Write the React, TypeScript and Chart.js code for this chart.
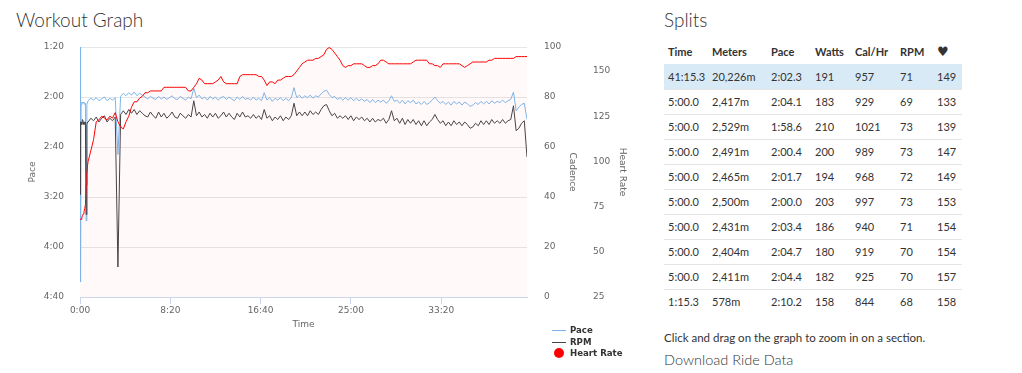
import React, { useEffect, useRef } from "react";
import { Chart, registerables } from "chart.js";

Chart.register(...registerables);

// ---- Time grid (seconds) ----
const START_TIMES_S = [0, 3, 6, 10, 14, 18, 22, 26, 30, 34, 38, 42];
const SAMPLE_START_S = 45;
const SAMPLE_STEP_S = 15;
const TIME_MAX_S = 2475;

// ---- Pace (seconds per 500m) ----
const PACE_START = [80, 268, 126, 124, 125, 124, 125, 126, 125, 219, 126, 124];
const PACE_MAIN = [
  123, 121, 122.5, 120.5, 123, 121.5, 120, 123, 121, 122.5,
  120.5, 166, 119.5, 117, 119, 116.5, 118.5, 116, 119, 117,
  118.5, 120, 121.5, 119.5, 121, 122, 119.5, 121.5, 120, 122,
  120.5, 119, 121.5, 122, 119.5, 121, 122.5, 120, 121.5, 113,
  120.5, 118.5, 121.5, 120, 122.5, 119.5, 121.5, 120, 122.5, 120.5,
  119.5, 122, 120, 121.5, 123, 120, 122, 119.5, 122, 121,
  122.5, 120, 122.5, 121, 123, 116.5, 122.5, 120.5, 123.5, 121,
  122.5, 120.5, 123, 121, 123, 120.5, 112.5, 120.5, 118.5, 121,
  119, 120.5, 118.5, 121, 119, 120, 117.5, 115.5, 114.5, 118,
  120.5, 119.5, 122, 120.5, 122.5, 120.5, 122.5, 120.5, 123, 121,
  123, 121.5, 123.5, 122, 124.5, 122, 124.5, 122.5, 124, 122.5,
  125, 123, 119, 123.5, 122.5, 125, 122.5, 125.5, 123, 124.5,
  122.5, 125.5, 124, 126, 123.5, 126, 124.5, 122.5, 120, 123,
  125, 123.5, 126, 124, 126.5, 123.5, 125.5, 124, 126.5, 124,
  125.5, 127.5, 126.5, 124.5, 126, 123.5, 125.5, 123.5, 125.5, 123,
  125, 123.5, 124.5, 122.5, 124.5, 123, 122, 116, 131, 128,
  126, 125, 138,
];

// ---- Cadence (RPM) ----
const RPM_START = [41, 70, 70, 69, 71, 70, 69, 70, 70, 33, 69, 70];
const RPM_MAIN = [
  70, 71.5, 70.5, 72, 70, 71.5, 72.5, 70, 71.5, 70.5,
  72, 12, 73, 74.5, 73, 75, 73.5, 75, 73, 74.5,
  73.5, 72.5, 72, 74, 72.5, 71.5, 74, 72, 73.5, 71.5,
  72.5, 74, 72, 71.5, 73.5, 72.5, 71.5, 73, 72, 78.5,
  72.5, 74, 72, 73, 71.5, 73.5, 72, 73.5, 71.5, 72.5,
  74, 72, 73.5, 72, 71, 73.5, 72, 74, 72, 72.5,
  71.5, 73, 71.5, 72.5, 71, 75, 71.5, 72.5, 70.5, 72,
  71, 72.5, 70.5, 72, 71, 72.5, 77.5, 72.5, 74, 72.5,
  74, 72.5, 74.5, 73, 74, 73, 75, 76.5, 77, 74.5,
  72.5, 73.5, 71.5, 72.5, 71.5, 72.5, 71, 72.5, 70.5, 72,
  71, 72, 70.5, 71.5, 70, 71.5, 70, 71, 70.5, 71.5,
  69.5, 71, 74.5, 70.5, 71.5, 69.5, 71.5, 69, 71, 69.5,
  71, 69, 70.5, 68.5, 70.5, 68.5, 70, 71, 73, 71,
  69.5, 70.5, 68.5, 70, 68.5, 70.5, 69, 70, 68.5, 70,
  69, 67.5, 68, 69.5, 68.5, 70.5, 69, 70.5, 69, 71,
  69.5, 70.5, 69.5, 71, 69.5, 70.5, 71, 76.5, 66.5, 67.5,
  69.5, 70.5, 56,
];

// ---- Heart rate (bpm) ----
const HR_START = [68, 68, 68, 69, 70, 71, 72, 74, 76, 87, 93, 98];
const HR_MAIN = [
  100, 106, 112, 122, 123, 125, 124, 123, 125, 124,
  127, 122, 119, 118, 122, 125, 130, 133, 133, 135,
  136, 138, 138, 139, 139, 139, 139, 139, 141, 141,
  141, 141, 141, 141, 141, 141, 141, 139, 139, 141,
  143, 146, 145, 143, 143, 143, 143, 144, 145, 147,
  144, 143, 143, 143, 143, 143, 147, 148, 148, 148,
  148, 148, 148, 147, 147, 145, 142, 144, 144, 143,
  145, 145, 146, 147, 147, 147, 148, 150, 152, 154,
  155, 156, 156, 156, 157, 157, 158, 159, 162, 163,
  162, 160, 158, 156, 153, 152, 153, 153, 154, 154,
  154, 154, 153, 152, 152, 153, 153, 154, 156, 156,
  155, 154, 154, 154, 154, 154, 154, 154, 154, 154,
  155, 156, 156, 156, 156, 156, 154, 154, 153, 153,
  152, 154, 154, 154, 154, 154, 154, 154, 153, 152,
  153, 154, 155, 155, 155, 155, 155, 155, 156, 156,
  157, 157, 157, 157, 157, 157, 157, 157, 158, 158,
  158, 158, 158,
];

// ---- Axis ticks ----
const TIME_TICKS = [0, 500, 1000, 1500, 2000];
const PACE_TICKS = [80, 120, 160, 200, 240, 280];
const RPM_TICKS = [0, 20, 40, 60, 80, 100];
const HR_TICKS = [25, 50, 75, 100, 125, 150];
const HR_MAX = 163.3;

// ---- Splits table ----
const SPLIT_HEADERS = ["Time", "Meters", "Pace", "Watts", "Cal/Hr", "RPM", "\u2665"];
const SPLIT_TIME = ["41:15.3", "5:00.0", "5:00.0", "5:00.0", "5:00.0", "5:00.0", "5:00.0", "5:00.0", "5:00.0", "1:15.3"];
const SPLIT_METERS = ["20,226m", "2,417m", "2,529m", "2,491m", "2,465m", "2,500m", "2,431m", "2,404m", "2,411m", "578m"];
const SPLIT_PACE = ["2:02.3", "2:04.1", "1:58.6", "2:00.4", "2:01.7", "2:00.0", "2:03.4", "2:04.7", "2:04.4", "2:10.2"];
const SPLIT_WATTS = [191, 183, 210, 200, 194, 203, 186, 180, 182, 158];
const SPLIT_CAL = [957, 929, 1021, 989, 968, 997, 940, 919, 925, 844];
const SPLIT_RPM = [71, 69, 73, 73, 72, 73, 71, 70, 70, 68];
const SPLIT_HR = [149, 133, 139, 147, 149, 153, 154, 154, 157, 158];

const TIMES_S = [
  ...START_TIMES_S,
  ...PACE_MAIN.map((_, i) => SAMPLE_START_S + i * SAMPLE_STEP_S),
];
const PACE_S = [...PACE_START, ...PACE_MAIN];
const RPM = [...RPM_START, ...RPM_MAIN];
const HR_BPM = [...HR_START, ...HR_MAIN];

const COL_WIDTHS = [44, 59, 44, 40, 45, 37, 29];

function fmtMinSec(v: number): string {
  const m = Math.floor(v / 60);
  const s = Math.round(v - m * 60);
  return m + ":" + String(s).padStart(2, "0");
}

function WorkoutChart() {
  const ref = useRef<HTMLCanvasElement>(null);
  useEffect(() => {
    if (!ref.current) return;
    const font = { family: "'DejaVu Sans', sans-serif", size: 9 };
    const setTicks = (vals: number[]) => (s: any) => {
      s.ticks = vals.map((v) => ({ value: v }));
    };
    const chart = new Chart(ref.current, {
      type: "line",
      data: {
        datasets: [
          {
            label: "Heart Rate",
            data: TIMES_S.map((t, i) => ({ x: t, y: HR_BPM[i] })),
            yAxisID: "hr",
            borderColor: "#ff0000",
            backgroundColor: "rgba(255,70,30,0.028)",
            borderWidth: 1,
            pointRadius: 0,
            fill: "start",
            tension: 0,
          },
          {
            label: "RPM",
            data: TIMES_S.map((t, i) => ({ x: t, y: RPM[i] })),
            yAxisID: "cad",
            borderColor: "#434348",
            borderWidth: 1,
            pointRadius: 0,
            fill: false,
            tension: 0,
          },
          {
            label: "Pace",
            data: TIMES_S.map((t, i) => ({ x: t, y: PACE_S[i] })),
            yAxisID: "pace",
            borderColor: "#7cb5ec",
            borderWidth: 1,
            pointRadius: 0,
            fill: false,
            tension: 0,
          },
        ],
      },
      options: {
        responsive: false,
        animation: false,
        events: [],
        layout: { padding: { left: 23, right: 18, top: 47, bottom: 38 } },
        plugins: {
          legend: { display: false },
          tooltip: { enabled: false },
          title: { display: false },
        },
        scales: {
          x: {
            type: "linear",
            min: 0,
            max: TIME_MAX_S,
            afterBuildTicks: setTicks(TIME_TICKS),
            afterFit: (s: any) => {
              s.height = 38;
            },
            ticks: {
              callback: (v: any) => fmtMinSec(Number(v)),
              font,
              color: "#666",
              padding: 1,
              maxRotation: 0,
              autoSkip: false,
            },
            grid: {
              drawOnChartArea: false,
              drawTicks: true,
              tickLength: 7,
              color: "#ccd6eb",
            },
            border: { display: true, color: "#ccd6eb" },
            title: {
              display: true,
              text: "Time",
              font,
              color: "#666",
              padding: { top: 0, bottom: 5 },
            },
          },
          pace: {
            type: "linear",
            position: "left",
            reverse: true,
            min: 80,
            max: 280,
            afterBuildTicks: setTicks(PACE_TICKS),
            afterFit: (s: any) => {
              s.width = 57;
            },
            ticks: {
              callback: (v: any) => fmtMinSec(Number(v)),
              font,
              color: "#666",
              padding: 16,
            },
            grid: { color: "#e6e6e6", drawTicks: false },
            border: { display: false },
            title: {
              display: true,
              text: "Pace",
              font,
              color: "#666",
              padding: { top: 4, bottom: 4 },
            },
          },
          cad: {
            type: "linear",
            position: "right",
            weight: 0,
            min: 0,
            max: 100,
            afterBuildTicks: setTicks(RPM_TICKS),
            afterFit: (s: any) => {
              s.width = 55;
            },
            ticks: { font, color: "#666", padding: 17 },
            grid: { display: false, drawTicks: false },
            border: { display: false },
            title: {
              display: true,
              text: "Cadence",
              font,
              color: "#666",
              padding: { top: 4, bottom: 4 },
            },
          },
          hr: {
            type: "linear",
            position: "right",
            weight: 1,
            min: 25,
            max: HR_MAX,
            afterBuildTicks: setTicks(HR_TICKS),
            afterFit: (s: any) => {
              s.width = 50;
            },
            ticks: { font, color: "#666", padding: 11 },
            grid: { display: false, drawTicks: false },
            border: { display: false },
            title: {
              display: true,
              text: "Heart Rate",
              font,
              color: "#666",
              padding: { top: 4, bottom: 4 },
            },
          },
        },
      } as any,
    });
    return () => chart.destroy();
  }, []);
  return (
    <canvas
      ref={ref}
      width={650}
      height={373}
      style={{ position: "absolute", left: 0, top: 0 }}
    />
  );
}

function Legend() {
  const text: React.CSSProperties = {
    position: "absolute",
    left: 570,
    fontFamily: "'DejaVu Sans', sans-serif",
    fontWeight: "bold",
    fontSize: 8.6,
    lineHeight: "11px",
    color: "#333",
    whiteSpace: "nowrap",
  };
  return (
    <>
      <div style={{ position: "absolute", left: 552, top: 330, width: 14, height: 1, background: "#7cb5ec" }} />
      <div style={{ ...text, top: 325.4 }}>Pace</div>
      <div style={{ position: "absolute", left: 552, top: 342, width: 14, height: 1, background: "#434348" }} />
      <div style={{ ...text, top: 337 }}>RPM</div>
      <div style={{ position: "absolute", left: 554, top: 348, width: 10, height: 10, borderRadius: 5, background: "#ff0000" }} />
      <div style={{ ...text, top: 348 }}>Heart Rate</div>
    </>
  );
}

function SplitsTable() {
  const rows = SPLIT_TIME.map((t, i) => [
    t,
    SPLIT_METERS[i],
    SPLIT_PACE[i],
    String(SPLIT_WATTS[i]),
    String(SPLIT_CAL[i]),
    String(SPLIT_RPM[i]),
    String(SPLIT_HR[i]),
  ]);
  return (
    <div style={{ position: "absolute", left: 664, top: 39, width: 298 }}>
      <div style={{ display: "flex", height: 25, lineHeight: "25px", fontWeight: "bold", fontSize: 11 }}>
        {SPLIT_HEADERS.map((h, j) => (
          <div
            key={j}
            style={{
              width: COL_WIDTHS[j],
              paddingLeft: 4,
              boxSizing: "border-box",
              fontFamily: j === 6 ? "'DejaVu Sans', sans-serif" : undefined,
              fontSize: j === 6 ? 13 : 11,
            }}
          >
            {h}
          </div>
        ))}
      </div>
      {rows.map((r, i) => (
        <div
          key={i}
          style={{
            display: "flex",
            height: 25,
            boxSizing: "border-box",
            lineHeight: i === 0 ? "25px" : "24px",
            borderTop: i === 0 ? "none" : "1px solid #e4e4e4",
            background: i === 0 ? "#d9eaf7" : "transparent",
            fontSize: 11,
          }}
        >
          {r.map((c, j) => (
            <div key={j} style={{ width: COL_WIDTHS[j], paddingLeft: 4, boxSizing: "border-box", whiteSpace: "nowrap" }}>
              {c}
            </div>
          ))}
        </div>
      ))}
    </div>
  );
}

export default function App() {
  return (
    <div
      style={{
        position: "absolute",
        left: 0,
        top: 0,
        width: 1022,
        height: 373,
        background: "#fff",
        fontFamily: "Lato, 'Noto Sans', sans-serif",
        color: "#333",
        overflow: "hidden",
      }}
    >
      <div style={{ position: "absolute", left: 16, top: 10, fontSize: 19, fontWeight: 300, lineHeight: "19px", whiteSpace: "nowrap" }}>
        Workout Graph
      </div>
      <WorkoutChart />
      <Legend />
      <div style={{ position: "absolute", left: 664, top: 10, fontSize: 19, fontWeight: 300, lineHeight: "19px" }}>Splits</div>
      <SplitsTable />
      <div style={{ position: "absolute", left: 664, top: 330.7, fontSize: 11.5, lineHeight: "13px", whiteSpace: "nowrap" }}>
        Click and drag on the graph to zoom in on a section.
      </div>
      <div style={{ position: "absolute", left: 664, top: 352.4, fontSize: 14.5, fontWeight: 300, lineHeight: "16px", whiteSpace: "nowrap" }}>
        Download Ride Data
      </div>
    </div>
  );
}
